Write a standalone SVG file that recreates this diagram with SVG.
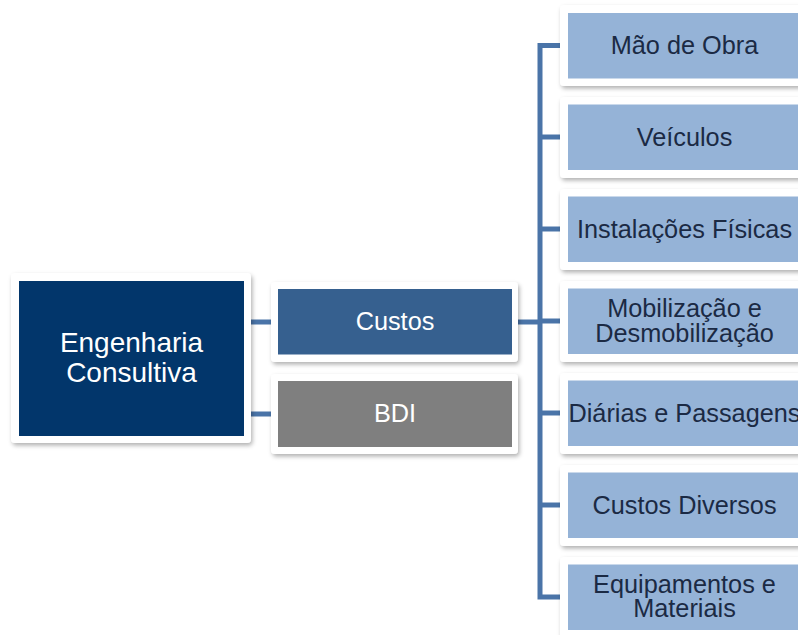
<svg xmlns="http://www.w3.org/2000/svg" width="798" height="635" viewBox="0 0 798 635">
<defs>
<filter id="sh" x="-10%" y="-10%" width="130%" height="140%">
<feDropShadow dx="1.5" dy="2.5" stdDeviation="2" flood-color="#000" flood-opacity="0.3"/>
</filter>
<style>
.frame{fill:#ffffff;filter:url(#sh);}
.main{fill:#02366B;}
.cust{fill:#36608F;}
.bdi{fill:#7F7F7F;}
.leaf{fill:#95B3D7;}
.wt{fill:#ffffff;font-family:"Liberation Sans",Arial,sans-serif;text-anchor:middle;}
.dt{fill:#1B2A44;font-family:"Liberation Sans",Arial,sans-serif;font-size:25.3px;text-anchor:middle;}
.conn{stroke:#4A74A8;stroke-width:5;fill:none;}
</style>
</defs>
<rect width="798" height="635" fill="#ffffff"/>
<g id="connectors">
<line class="conn" x1="244" y1="322" x2="278" y2="322"/>
<line class="conn" x1="244" y1="414" x2="278" y2="414"/>
<line class="conn" x1="512" y1="322" x2="540" y2="322"/>
<path class="conn" d="M568 45.5 H540 V597 H568"/>
<line class="conn" x1="540" y1="137" x2="568" y2="137"/>
<line class="conn" x1="540" y1="229" x2="568" y2="229"/>
<line class="conn" x1="540" y1="321" x2="568" y2="321"/>
<line class="conn" x1="540" y1="413" x2="568" y2="413"/>
<line class="conn" x1="540" y1="505" x2="568" y2="505"/>
</g>
<g id="node-engenharia">
<rect class="frame" x="11" y="273" width="240" height="170" rx="4"/>
<rect class="main" x="19" y="281" width="225" height="155"/>
<text class="wt" font-size="28" x="131.5" y="351.5">Engenharia</text>
<text class="wt" font-size="28" x="131.5" y="381.5">Consultiva</text>
</g>
<g id="node-custos">
<rect class="frame" x="271" y="282" width="247" height="80" rx="4"/>
<rect class="cust" x="278" y="289" width="234" height="65.5"/>
<text class="wt" font-size="25.3" x="395" y="330">Custos</text>
</g>
<g id="node-bdi">
<rect class="frame" x="271" y="374" width="247" height="80" rx="4"/>
<rect class="bdi" x="278" y="381" width="234" height="66"/>
<text class="wt" font-size="25.3" x="395" y="421.5">BDI</text>
</g>
<g id="node-mao">
<rect class="frame" x="560" y="5" width="250" height="81" rx="4"/>
<rect class="leaf" x="568" y="13" width="240" height="65.5"/>
<text class="dt" x="684.5" y="53.5">Mão de Obra</text>
</g>
<g id="node-veiculos">
<rect class="frame" x="560" y="97" width="250" height="81" rx="4"/>
<rect class="leaf" x="568" y="104.5" width="240" height="65.5"/>
<text class="dt" x="684.5" y="145.5">Veículos</text>
</g>
<g id="node-instalacoes">
<rect class="frame" x="560" y="189" width="250" height="81" rx="4"/>
<rect class="leaf" x="568" y="196.5" width="240" height="65.5"/>
<text class="dt" x="684.5" y="237.5">Instalações Físicas</text>
</g>
<g id="node-mobilizacao">
<rect class="frame" x="560" y="281" width="250" height="81" rx="4"/>
<rect class="leaf" x="568" y="288.5" width="240" height="65.5"/>
<text class="dt" x="684.5" y="316.5">Mobilização e</text>
<text class="dt" x="684.5" y="341.5">Desmobilização</text>
</g>
<g id="node-diarias">
<rect class="frame" x="560" y="373" width="250" height="81" rx="4"/>
<rect class="leaf" x="568" y="380.5" width="240" height="65.5"/>
<text class="dt" x="684.5" y="421.5">Diárias e Passagens</text>
</g>
<g id="node-diversos">
<rect class="frame" x="560" y="465" width="250" height="81" rx="4"/>
<rect class="leaf" x="568" y="472.5" width="240" height="65.5"/>
<text class="dt" x="684.5" y="513.5">Custos Diversos</text>
</g>
<g id="node-equipamentos">
<rect class="frame" x="560" y="557" width="250" height="81" rx="4"/>
<rect class="leaf" x="568" y="564.5" width="240" height="65.5"/>
<text class="dt" x="684.5" y="592.5">Equipamentos e</text>
<text class="dt" x="684.5" y="617">Materiais</text>
</g>
</svg>
